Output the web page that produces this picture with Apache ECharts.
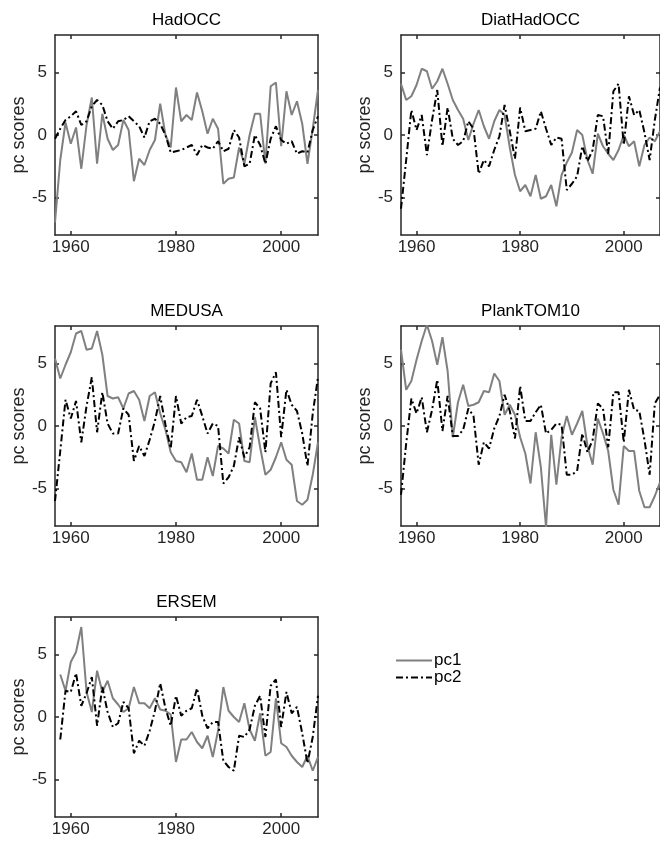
<!DOCTYPE html>
<html>
<head>
<meta charset="utf-8">
<script src="https://cdn.jsdelivr.net/npm/echarts@6/dist/echarts.min.js"></script>
<style>
html,body{margin:0;padding:0;background:#fff;}
#c{width:660px;height:843px;}
</style>
</head>
<body>
<div id="c"></div>
<script>
const years = [1957,1958,1959,1960,1961,1962,1963,1964,1965,1966,1967,1968,1969,1970,1971,1972,1973,1974,1975,1976,1977,1978,1979,1980,1981,1982,1983,1984,1985,1986,1987,1988,1989,1990,1991,1992,1993,1994,1995,1996,1997,1998,1999,2000,2001,2002,2003,2004,2005,2006,2007];
const panelTitles = ["HadOCC","DiatHadOCC","MEDUSA","PlankTOM10","ERSEM"];
const xTicks = [1960,1980,2000];
const yTicks = [-5,0,5];
const seriesNames = ["pc1","pc2"];
const yLabel = "pc scores";

const hadocc_pc1 = [-7.0,-2.0,1.0,-0.7,0.6,-2.7,0.8,3.0,-2.3,1.7,-0.3,-1.2,-0.8,1.2,0.4,-3.7,-1.9,-2.4,-1.2,-0.4,2.5,0.0,-1.0,3.8,1.1,1.6,1.2,3.4,1.9,0.1,1.3,0.5,-3.9,-3.5,-3.4,-1.0,-2.3,0.0,1.7,1.7,-2.3,3.9,4.2,-0.9,3.5,1.6,2.7,0.9,-2.3,0.5,3.6];
const hadocc_pc2 = [-0.3,0.5,1.2,1.5,1.9,0.8,1.1,2.3,2.8,2.4,1.1,0.5,1.1,1.2,1.5,1.1,0.7,-0.2,1.1,1.3,0.9,0.0,-1.4,-1.3,-1.2,-1.0,-0.8,-1.6,-0.8,-1.0,-1.1,-0.5,-1.3,-1.1,0.4,-0.2,-2.5,-2.3,0.0,-0.8,-2.3,-0.3,0.7,-0.4,-0.7,-0.5,-1.5,-1.3,-1.4,0.4,1.5];

const diat_pc1 = [4.1,2.8,3.1,4.0,5.3,5.1,3.7,4.3,5.3,4.1,2.8,2.0,1.3,-0.4,0.9,2.0,0.7,-0.3,1.1,2.0,1.6,-1.0,-3.2,-4.5,-4.0,-4.9,-3.2,-5.1,-4.9,-4.0,-5.7,-3.2,-2.2,-1.4,0.4,0.0,-2.0,-3.1,0.1,-0.9,-1.5,-2.0,-1.2,0.0,-0.9,-0.5,-2.5,-0.8,-0.2,-0.5,0.3];
const diat_pc2 = [-5.9,-2.0,2.0,0.4,1.6,-1.6,1.2,3.6,-0.9,2.2,-0.3,-0.8,-0.5,1.1,0.5,-3.1,-2.0,-2.5,-1.2,-0.1,2.4,0.3,-1.9,2.2,0.3,0.4,0.5,1.9,0.5,-0.8,-0.2,-0.3,-4.4,-3.9,-3.3,-0.9,-2.1,-1.2,1.6,1.5,-1.5,3.5,4.1,-0.8,3.1,1.6,2.0,0.2,-2.0,1.2,3.8];

const medusa_pc1 = [5.4,3.8,4.9,5.9,7.4,7.6,6.1,6.2,7.6,5.7,2.4,2.2,2.3,1.4,2.6,2.8,2.1,0.4,2.4,2.7,1.0,-0.3,-2.1,-2.8,-2.9,-3.7,-2.2,-4.3,-4.3,-2.5,-4.0,-1.6,-1.8,-2.2,0.5,0.2,-2.8,-2.9,0.7,-1.7,-3.9,-3.5,-2.5,-1.3,-2.7,-3.1,-6.0,-6.3,-5.9,-3.9,-1.3];
const medusa_pc2 = [-6.0,-2.0,2.1,0.6,2.0,-1.3,1.6,3.9,-0.5,2.7,0.2,-0.6,-0.6,1.4,0.9,-2.8,-1.6,-2.4,-1.1,0.4,2.4,0.1,-1.8,2.4,0.2,0.7,0.8,2.1,0.8,-0.6,0.2,0.0,-4.6,-4.1,-3.2,-0.9,-2.5,-1.7,1.9,1.4,-2.1,3.4,4.3,-0.9,2.9,1.7,1.2,-0.6,-3.2,1.0,3.9];

const plank_pc1 = [6.1,2.9,3.6,5.3,6.8,8.1,6.8,4.9,7.1,4.4,-0.9,1.9,3.3,1.6,1.7,1.9,2.8,2.7,4.2,3.6,0.9,1.7,0.9,-0.9,-2.2,-4.6,-0.5,-3.3,-8.1,-0.7,-4.7,-0.9,0.8,-0.7,0.2,1.2,-1.6,-3.1,0.6,-0.6,-2.0,-5.1,-6.3,-1.6,-2.0,-2.0,-5.2,-6.5,-6.5,-5.6,-4.5];
const plank_pc2 = [-5.5,-1.4,2.2,1.0,2.3,-0.5,1.3,3.7,-0.4,2.4,-0.8,-0.8,-0.3,1.4,0.8,-3.1,-1.3,-1.8,-0.2,0.8,2.5,1.2,-1.0,3.2,0.4,0.4,1.1,1.7,-0.6,-0.3,0.2,0.1,-3.9,-3.9,-3.6,-0.6,-2.1,-1.1,1.8,1.4,-1.7,2.7,2.7,-1.3,2.9,1.3,1.2,-1.1,-3.9,1.8,2.5];

const ersem_pc1 = [null,3.4,2.1,4.4,5.2,7.2,2.0,0.4,3.7,2.0,2.9,1.5,1.0,0.4,0.7,2.4,1.1,1.1,0.7,1.5,0.6,0.5,0.2,-3.6,-1.8,-1.8,-1.2,-2.0,-2.5,-1.5,-3.2,-1.1,2.4,0.5,0.0,-0.4,1.1,-1.0,-1.9,0.3,-3.1,-2.8,1.5,-2.1,-2.4,-3.1,-3.6,-4.0,-3.1,-4.3,-3.2];
const ersem_pc2 = [null,-1.8,2.1,2.0,3.5,0.9,1.9,3.2,-0.7,2.4,0.4,-0.8,-0.5,1.2,0.7,-2.9,-1.9,-2.3,-1.1,0.5,2.7,0.7,-0.7,1.7,0.1,0.5,0.7,2.3,0.1,-0.9,-0.4,-0.4,-3.5,-4.0,-4.3,-1.5,-1.6,-1.0,0.9,1.7,-1.6,2.5,3.0,-0.8,2.0,0.3,0.8,-1.3,-3.7,-1.6,1.7];

const panels = [
  [hadocc_pc1, hadocc_pc2],
  [diat_pc1, diat_pc2],
  [medusa_pc1, medusa_pc2],
  [plank_pc1, plank_pc2],
  [ersem_pc1, ersem_pc2]
];

const gridPos = [
  {left:55, top:35, width:263, height:200},
  {left:401, top:35, width:261, height:200},
  {left:55, top:326, width:263, height:200},
  {left:401, top:326, width:261, height:200},
  {left:55, top:617, width:263, height:200}
];

const AX = '#262626';
const FONT = 'Liberation Sans, Arial, Helvetica, sans-serif';
const grids = [], xAxes = [], yAxes = [], series = [];
gridPos.forEach((g, i) => {
  grids.push(Object.assign({containLabel:false}, g));
  const common = {
    gridIndex: i, type: 'value', min: 1957, max: 2007,
    axisLine: {show: true, onZero: false, lineStyle: {color: AX, width: 1.5}},
    splitLine: {show: false}
  };
  xAxes.push(Object.assign({}, common, {
    position: 'bottom',
    axisTick: {show: true, inside: true, length: 4, customValues: xTicks, lineStyle: {color: AX, width: 1.5}},
    axisLabel: {show: true, customValues: xTicks, color: AX, fontSize: 17, fontFamily: FONT, margin: 4,
      formatter: v => String(v)}
  }));
  xAxes.push(Object.assign({}, common, {
    position: 'top',
    name: panelTitles[i], nameLocation: 'middle', nameGap: 6,
    nameTextStyle: {color: '#000', fontSize: 17, fontFamily: FONT, verticalAlign: 'bottom'},
    axisTick: {show: true, inside: true, length: 4, customValues: xTicks, lineStyle: {color: AX, width: 1.5}},
    axisLabel: {show: false}
  }));
  const ycommon = {
    gridIndex: i, type: 'value', min: -8, max: 8,
    axisLine: {show: true, onZero: false, lineStyle: {color: AX, width: 1.5}},
    splitLine: {show: false}
  };
  yAxes.push(Object.assign({}, ycommon, {
    position: 'left',
    name: yLabel, nameLocation: 'middle', nameGap: 27, nameRotate: 90,
    nameTextStyle: {color: AX, fontSize: 18, fontFamily: FONT},
    axisTick: {show: true, inside: true, length: 4, customValues: yTicks, lineStyle: {color: AX, width: 1.5}},
    axisLabel: {show: true, customValues: yTicks, color: AX, fontSize: 17, fontFamily: FONT, margin: 8,
      formatter: v => String(v)}
  }));
  yAxes.push(Object.assign({}, ycommon, {
    position: 'right',
    axisTick: {show: true, inside: true, length: 4, customValues: yTicks, lineStyle: {color: AX, width: 1.5}},
    axisLabel: {show: false}
  }));
  const [p1, p2] = panels[i];
  series.push({
    name: seriesNames[0], type: 'line', xAxisIndex: 2*i, yAxisIndex: 2*i,
    data: years.map((y, k) => [y, p1[k]]),
    symbol: 'none', connectNulls: false, silent: true, animation: false,
    lineStyle: {color: '#808080', width: 2, type: 'solid'},
    itemStyle: {color: '#808080'}
  });
  series.push({
    name: seriesNames[1], type: 'line', xAxisIndex: 2*i, yAxisIndex: 2*i,
    data: years.map((y, k) => [y, p2[k]]),
    symbol: 'none', connectNulls: false, silent: true, animation: false, z: 3,
    lineStyle: {color: '#000000', width: 2, type: [7, 3, 2, 3]},
    itemStyle: {color: '#000000'}
  });
});

const chart = echarts.init(document.getElementById('c'), null, {renderer: 'canvas'});
chart.setOption({
  backgroundColor: '#ffffff',
  animation: false,
  grid: grids,
  xAxis: xAxes,
  yAxis: yAxes,
  legend: {
    data: seriesNames, orient: 'vertical', left: 390, top: 647,
    itemWidth: 36, itemHeight: 10, itemGap: 0,
    itemStyle: {opacity: 0},
    textStyle: {color: '#000', fontSize: 17, fontFamily: FONT, padding: [0,0,0,-3]},
    selectedMode: false
  },
  series: series
});
</script>
</body>
</html>
